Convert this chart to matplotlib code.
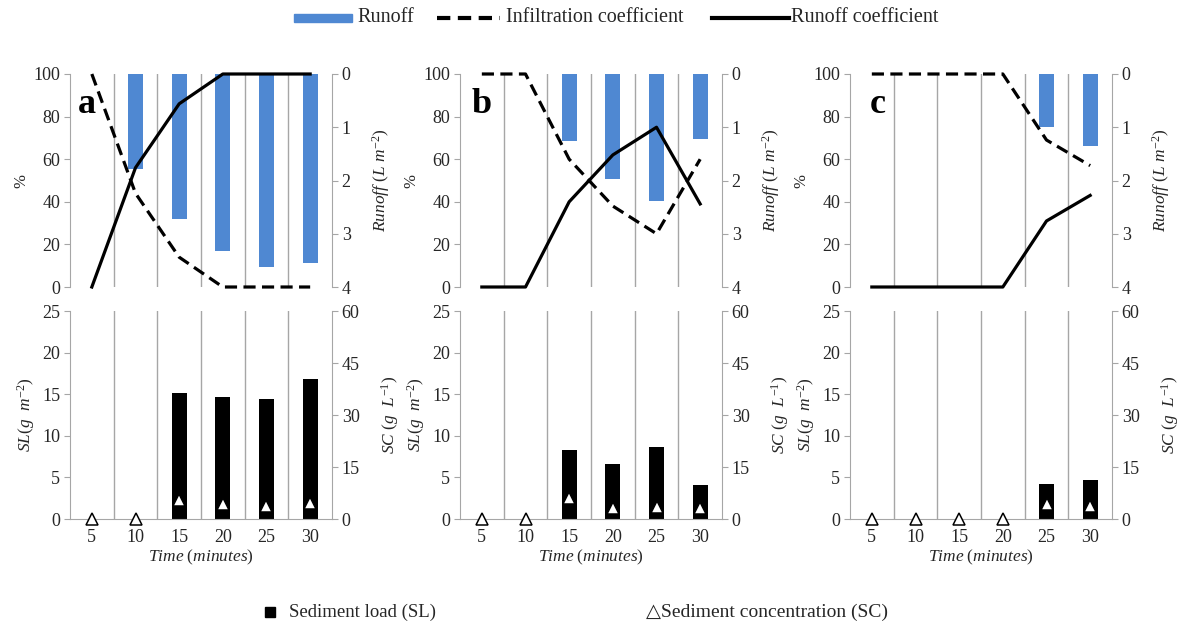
import matplotlib
matplotlib.use("Agg")
import matplotlib.pyplot as plt
from matplotlib.patches import Rectangle
from matplotlib.lines import Line2D
import numpy as np

plt.rcParams['font.family'] = ['Liberation Serif', 'DejaVu Sans']
plt.rcParams['mathtext.fontset'] = 'custom'
plt.rcParams['mathtext.rm'] = 'Liberation Serif'
plt.rcParams['mathtext.it'] = 'Liberation Serif:italic'

# ---------------- data ----------------
times = ["5", "10", "15", "20", "25", "30"]
panels = ["a", "b", "c"]

runoff_a = [0, 1.78, 2.72, 3.32, 3.62, 3.54]
rc_a = [0, 56, 86, 100, 100, 100]
ic_a = [100, 44, 14, 0, 0, 0]
sl_a = [0, 0, 15.2, 14.7, 14.4, 16.8]
sc_a = [0, 0, 5.4, 4.4, 3.8, 4.6]

runoff_b = [0, 0, 1.26, 1.97, 2.39, 1.23]
rc_b = [0, 0, 40, 62, 75, 39]
ic_b = [100, 100, 60, 38, 25, 60]
sl_b = [0, 0, 8.3, 6.6, 8.7, 4.1]
sc_b = [0, 0, 6.2, 3.2, 3.5, 3.3]

runoff_c = [0, 0, 0, 0, 0.99, 1.35]
rc_c = [0, 0, 0, 0, 31, 43]
ic_c = [100, 100, 100, 100, 69, 57]
sl_c = [0, 0, 0, 0, 4.2, 4.7]
sc_c = [0, 0, 0, 0, 4.4, 3.7]

runoff = [runoff_a, runoff_b, runoff_c]
rcoef = [rc_a, rc_b, rc_c]
icoef = [ic_a, ic_b, ic_c]
sload = [sl_a, sl_b, sl_c]
sconc = [sc_a, sc_b, sc_c]

# ---------------- style ----------------
W, H = 1179, 632
fig = plt.figure(figsize=(W / 100, H / 100), dpi=100)
BLUE = '#4F88D2'
GRAY = '#A6A6A6'
TXT = '#262626'
FS = 13

lefts_px = [70, 460, 850]
axw_px = 262
top_row = (74, 287)
bot_row = (311, 519)
letter_x = [0.03, 0.046, 0.076]

x = np.arange(len(times))


def style_axes(ax, ax2):
    for a in (ax, ax2):
        for s in a.spines.values():
            s.set_color(GRAY)
        a.spines['top'].set_visible(False)
    ax.spines['right'].set_visible(False)
    ax2.spines['left'].set_visible(False)
    ax.tick_params(axis='y', direction='out', length=4, color=GRAY,
                   labelsize=FS, labelcolor=TXT, pad=3)
    ax2.tick_params(axis='y', direction='out', length=4, color=GRAY,
                    labelsize=FS, labelcolor=TXT, pad=3)
    ax.set_xlim(-0.5, len(times) - 0.5)


for i in range(3):
    l = lefts_px[i] / W
    w = axw_px / W
    # ---- top panel ----
    b = 1 - top_row[1] / H
    h = (top_row[1] - top_row[0]) / H
    ax = fig.add_axes([l, b, w, h])
    ax2 = ax.twinx()
    ax.set_zorder(ax2.get_zorder() + 1)
    ax.patch.set_visible(False)
    style_axes(ax, ax2)
    ax.spines['bottom'].set_visible(False)
    ax2.spines['bottom'].set_visible(False)
    for g in np.arange(0.5, len(times) - 0.5, 1):
        ax2.axvline(g, color=GRAY, lw=1, zorder=0)
    ax2.bar(x, runoff[i], width=0.34, color=BLUE, zorder=2)
    ax2.set_ylim(4, 0)
    ax2.set_yticks([0, 1, 2, 3, 4])
    ax.plot(x, icoef[i], color='black', lw=2.3, ls=(0, (3.8, 2.0)),
            clip_on=False, zorder=3)
    ax.plot(x, rcoef[i], color='black', lw=2.3, clip_on=False, zorder=3)
    ax.set_ylim(0, 100)
    ax.set_yticks(range(0, 101, 20))
    ax.set_xticks([])
    ax2.set_xticks([])
    ax.set_ylabel('%', fontsize=12, color=TXT, labelpad=3)
    ax2.set_ylabel(r'$Runoff\ (L\ m^{-2})$', fontsize=12.5, color=TXT,
                   rotation=90, labelpad=14)
    ax.text(letter_x[i], 0.855, panels[i], transform=ax.transAxes,
            fontsize=26, fontweight='bold', va='center', ha='left',
            color='black', zorder=5)

    # ---- bottom panel ----
    b = 1 - bot_row[1] / H
    h = (bot_row[1] - bot_row[0]) / H
    bx = fig.add_axes([l, b, w, h])
    bx2 = bx.twinx()
    style_axes(bx, bx2)
    bx2.spines['bottom'].set_visible(False)
    for g in np.arange(0.5, len(times) - 0.5, 1):
        bx.axvline(g, color=GRAY, lw=1, zorder=0)
    bx.bar(x, sload[i], width=0.34, color='black', zorder=2)
    bx.set_ylim(0, 25)
    bx.set_yticks(range(0, 26, 5))
    bx2.plot(x, sconc[i], ls='none', marker='^', ms=9, mfc='white',
             mec='black', mew=1.1, clip_on=False, zorder=4)
    bx2.set_ylim(0, 60)
    bx2.set_yticks(range(0, 61, 15))
    bx.set_xticks(x)
    bx.set_xticklabels(times)
    bx.tick_params(axis='x', length=0, labelsize=FS, labelcolor=TXT, pad=7)
    bx.set_xlabel(r'$Time\ (minutes)$', fontsize=12.5, color=TXT,
                  labelpad=1.5)
    bx.set_ylabel(r'$SL(g\ \ m^{-2})$', fontsize=12.5, color=TXT, labelpad=4)
    bx2.set_ylabel(r'$SC\ (g\ \ L^{-1})$', fontsize=12.5, color=TXT,
                   rotation=90, labelpad=14)


def fx(px):
    return px / W


def fy(py):
    return 1 - py / H


# ---------------- top legend ----------------
ly = 18
fig.patches.append(Rectangle((fx(294), fy(ly + 4)), fx(352) - fx(294),
                             fy(ly - 4) - fy(ly + 4), color=BLUE,
                             transform=fig.transFigure))
fig.text(fx(357), fy(ly), 'Runoff', fontsize=14.5, va='center', color=TXT)
fig.add_artist(Line2D([fx(437), fx(500)], [fy(ly), fy(ly)], color='black',
                      lw=3, ls=(0, (3.2, 1.8)), transform=fig.transFigure))
fig.text(fx(506), fy(ly), 'Infiltration coefficient', fontsize=14.5,
         va='center', color=TXT)
fig.add_artist(Line2D([fx(712), fx(789)], [fy(ly), fy(ly)], color='black',
                      lw=3, transform=fig.transFigure))
fig.text(fx(791), fy(ly), 'Runoff coefficient', fontsize=14.5, va='center',
         color=TXT)

# ---------------- bottom legend ----------------
by = 612
fig.add_artist(Line2D([fx(270)], [fy(by)], marker='s', ms=7, color='black',
                      ls='none', transform=fig.transFigure))
fig.text(fx(289), fy(by), 'Sediment load (SL)', fontsize=13.5, va='center',
         color=TXT)
fig.text(fx(646), fy(by), '\u25b3Sediment concentration (SC)', fontsize=14,
         va='center', color=TXT)

fig.savefig('out.png', dpi=100)
